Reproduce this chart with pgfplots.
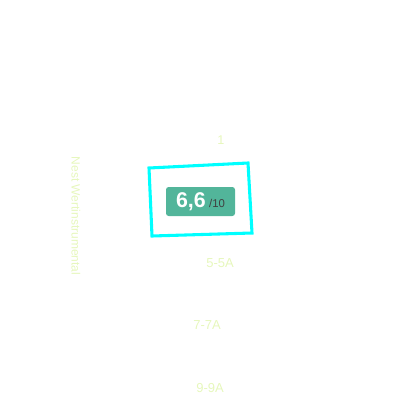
\documentclass[border=0pt]{standalone}
\usepackage{pgfplots}
\pgfplotsset{compat=1.18}
\usepackage{fontspec}
\setmainfont{Liberation Sans}

\definecolor{faint}{HTML}{E6F7BC}
\definecolor{badge}{HTML}{52B59A}
\definecolor{frame}{HTML}{00FFFF}

\begin{document}
\begin{tikzpicture}
\useasboundingbox (0,0) rectangle (300pt,300pt);
\begin{axis}[
    at={(0,0)}, anchor=south west,
    scale only axis,
    width=300pt, height=300pt,
    xmin=0, xmax=400, ymin=0, ymax=400,
    y dir=reverse,
    hide axis,
    clip=false
]
% frame around the score
\addplot[frame, line width=2.3pt, line join=miter] coordinates {
    (149,168) (248,163) (252,233) (152,236)
} -- cycle;

% score badge
\node[fill=badge, rounded corners=2pt, inner sep=0pt,
      minimum width=51.75pt, minimum height=21.75pt]
  at (axis cs:200.5,201.5)
  {\fontsize{16}{16}\selectfont\bfseries\color{white}6,6\,\fontsize{8.5}{8.5}\selectfont\mdseries\color{black!75}/10};

% faint labels
\node[text=faint, font=\fontsize{9.5}{10}\selectfont] at (axis cs:221,140) {1};
\node[text=faint, font=\fontsize{9.75}{10}\selectfont] at (axis cs:220,263) {5-5A};
\node[text=faint, font=\fontsize{9.75}{10}\selectfont] at (axis cs:207,325) {7-7A};
\node[text=faint, font=\fontsize{9.75}{10}\selectfont] at (axis cs:210,388) {9-9A};
\node[text=faint, font=\fontsize{9}{9}\selectfont, rotate=-90] at (axis cs:76,216) {Nest Wertinstrumental};
\end{axis}
\end{tikzpicture}
\end{document}
